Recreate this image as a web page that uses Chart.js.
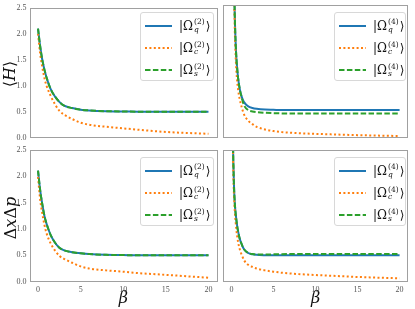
<!DOCTYPE html>
<html>
<head>
<meta charset="utf-8">
<script src="https://cdn.jsdelivr.net/npm/chart.js@4.4.0/dist/chart.umd.min.js"></script>
<style>
  body { margin: 0; background: #fff; width: 415px; height: 309px; overflow: hidden; position: relative; font-family: "DejaVu Serif", serif; }
  canvas { position: absolute; left: 0; top: 0; }
  .legend { position: absolute; border: 1px solid #d8d8d8; border-radius: 3px; background: rgba(255,255,255,0.85); z-index: 5; box-sizing: border-box; }
  .row { position: absolute; left: 0; height: 20px; display: flex; align-items: center; }
  .row svg { margin-left: 4px; }
  .lbl { margin-left: 7px; font-size: 12px; color: #111; display: flex; align-items: center; }
  .ss { display: inline-flex; flex-direction: column; font-size: 7.5px; line-height: 7.5px; margin: 0 1px; }
  .ss i { font-style: italic; }
  .ylab { position: absolute; transform: translate(-50%, -50%) rotate(-90deg); font-size: 16px; white-space: nowrap; color: #111; z-index: 5; }
</style>
</head>
<body>
<canvas id="cTL" width="415" height="309"></canvas>
<canvas id="cTR" width="415" height="309"></canvas>
<canvas id="cBL" width="415" height="309"></canvas>
<canvas id="cBR" width="415" height="309"></canvas>
<div class="ylab" style="left:9px;top:74px">⟨<i>H</i>⟩</div>
<div class="ylab" style="left:10px;top:218px">Δ<i>x</i>Δ<i>p</i></div>
<script>
// ticks
const xTickValues = [0, 5, 10, 15, 20];
const yTickValues = [0, 0.5, 1, 1.5, 2, 2.5];

// colonne de gauche (ordre 2)
const betaLeft = [0, 0.25, 0.5, 0.75, 1, 1.5, 2, 2.5, 3, 4, 5, 6, 8, 10, 12, 15, 20];
const hq2 = [2.10, 1.76, 1.50, 1.31, 1.16, 0.93, 0.79, 0.69, 0.62, 0.57, 0.54, 0.525, 0.51, 0.505, 0.50, 0.50, 0.50];
const hc2 = [2.00, 1.62, 1.36, 1.15, 1.00, 0.80, 0.64, 0.52, 0.45, 0.36, 0.29, 0.25, 0.21, 0.18, 0.15, 0.11, 0.075];
const hs2 = [2.10, 1.76, 1.50, 1.31, 1.16, 0.93, 0.79, 0.69, 0.62, 0.57, 0.54, 0.525, 0.51, 0.505, 0.50, 0.50, 0.50];
const dq2 = [2.11, 1.74, 1.47, 1.25, 1.10, 0.88, 0.74, 0.645, 0.60, 0.56, 0.54, 0.525, 0.51, 0.505, 0.50, 0.50, 0.50];
const dc2 = [1.99, 1.56, 1.30, 1.08, 0.92, 0.72, 0.59, 0.49, 0.44, 0.36, 0.29, 0.25, 0.215, 0.19, 0.16, 0.13, 0.075];
const ds2 = [2.11, 1.74, 1.47, 1.25, 1.10, 0.88, 0.74, 0.645, 0.60, 0.56, 0.54, 0.525, 0.51, 0.505, 0.50, 0.50, 0.50];

// haut droite (ordre 4)
const betaTR = [0.25, 0.3, 0.35, 0.4, 0.5, 0.6, 0.7, 0.8, 1, 1.25, 1.5, 2, 2.5, 3, 4, 5, 6, 8, 10, 12, 15, 20];
const hq4 = [4.6, 3.5, 2.75, 2.3, 1.80, 1.48, 1.28, 1.12, 0.91, 0.76, 0.67, 0.59, 0.56, 0.545, 0.53, 0.525, 0.52, 0.52, 0.52, 0.52, 0.52, 0.52];
const hc4 = [4.0, 3.0, 2.45, 2.05, 1.55, 1.24, 1.04, 0.90, 0.72, 0.56, 0.44, 0.32, 0.255, 0.205, 0.155, 0.125, 0.105, 0.085, 0.072, 0.062, 0.048, 0.032];
const hs4 = [4.6, 3.5, 2.75, 2.3, 1.80, 1.48, 1.28, 1.12, 0.91, 0.74, 0.61, 0.52, 0.495, 0.482, 0.47, 0.462, 0.458, 0.455, 0.455, 0.455, 0.455, 0.455];

// bas droite (ordre 4)
const betaBR = [0.15, 0.2, 0.25, 0.3, 0.4, 0.5, 0.6, 0.7, 0.8, 1, 1.25, 1.5, 2, 2.5, 3, 4, 5, 6, 8, 10, 12, 15, 20];
const dq4 = [3.6, 2.55, 2.15, 1.85, 1.50, 1.30, 1.16, 1.04, 0.95, 0.81, 0.70, 0.615, 0.545, 0.52, 0.51, 0.503, 0.50, 0.50, 0.50, 0.50, 0.50, 0.50, 0.50];
const dc4 = [3.3, 2.35, 1.95, 1.68, 1.34, 1.14, 0.97, 0.85, 0.75, 0.61, 0.50, 0.41, 0.32, 0.28, 0.25, 0.215, 0.19, 0.17, 0.145, 0.127, 0.112, 0.09, 0.064];
const ds4 = [3.6, 2.55, 2.15, 1.85, 1.50, 1.30, 1.16, 1.04, 0.95, 0.81, 0.70, 0.615, 0.545, 0.525, 0.515, 0.515, 0.52, 0.523, 0.525, 0.525, 0.525, 0.525, 0.525];

const legendSubs = ["q", "c", "s"];

const colors = { q: "#1f77b4", c: "#ff7f0e", s: "#2ca02c" };

function pts(xs, ys) {
  return xs.map((x, i) => ({ x: x, y: ys[i] }));
}

function makeDatasets(xs, q, c, s) {
  return [
    { data: pts(xs, q), borderColor: colors.q, borderWidth: 2, order: 3 },
    { data: pts(xs, c), borderColor: colors.c, borderWidth: 2, borderDash: [2, 2.4], order: 2 },
    { data: pts(xs, s), borderColor: colors.s, borderWidth: 2, borderDash: [5.5, 2.4], order: 1 },
  ];
}

// cadre gris autour de la zone de tracé
const framePlugin = {
  id: "frame",
  afterDraw(chart) {
    const a = chart.chartArea;
    const ctx = chart.ctx;
    ctx.save();
    ctx.strokeStyle = "#a0a0a0";
    ctx.lineWidth = 1;
    ctx.strokeRect(Math.round(a.left) + 0.5, Math.round(a.top) + 0.5, Math.round(a.right - a.left) - 1, Math.round(a.bottom - a.top) - 1);
    ctx.restore();
  },
};

const tickFont = { family: "Liberation Serif", size: 8 };

function makeChart(id, datasets, pad, showY, showX) {
  return new Chart(document.getElementById(id), {
    type: "line",
    data: { datasets: datasets },
    plugins: [framePlugin],
    options: {
      responsive: false,
      animation: false,
      devicePixelRatio: 1,
      layout: { padding: pad },
      elements: {
        point: { radius: 0 },
        line: { cubicInterpolationMode: "monotone", fill: false },
      },
      datasets: { line: { clip: 0 } },
      plugins: { legend: { display: false }, tooltip: { enabled: false } },
      scales: {
        x: {
          type: "linear",
          min: -1,
          max: 21,
          display: showX,
          grid: { display: false, drawTicks: false },
          border: { display: false },
          afterBuildTicks: (s) => { s.ticks = xTickValues.map((v) => ({ value: v })); },
          afterFit: (s) => { s.height = showX ? 27.3 : 0; },
          ticks: { font: tickFont, color: "#555", padding: 3, maxRotation: 0 },
          title: { display: true, text: "β", font: { family: "DejaVu Serif", size: 16, style: "italic" }, color: "#111", padding: { top: 0, bottom: 1 } },
        },
        y: {
          min: 0,
          max: 2.5,
          display: showY,
          grid: { display: false, drawTicks: false },
          border: { display: false },
          afterBuildTicks: (s) => { s.ticks = yTickValues.map((v) => ({ value: v })); },
          afterFit: (s) => { s.width = showY ? 29.5 : 0; },
          ticks: { font: tickFont, color: "#555", padding: 3, callback: (v) => v.toFixed(1) },
        },
      },
    },
  });
}

makeChart("cTL", makeDatasets(betaLeft, hq2, hc2, hs2), { left: 0, top: 5, right: 198, bottom: 171.3 }, true, false);
makeChart("cTR", makeDatasets(betaTR, hq4, hc4, hs4), { left: 223, top: 5, right: 7, bottom: 171.3 }, false, false);
makeChart("cBL", makeDatasets(betaLeft, dq2, dc2, ds2), { left: 0, top: 150, right: 198, bottom: 0 }, true, true);
makeChart("cBR", makeDatasets(betaBR, dq4, dc4, ds4), { left: 223, top: 150, right: 7, bottom: 0 }, false, true);

// légendes HTML (indices et exposants superposés)
function sample(color, dash) {
  return '<svg width="27" height="4"><line x1="0" y1="2" x2="27" y2="2" stroke="' + color + '" stroke-width="2"' +
    (dash ? ' stroke-dasharray="' + dash + '"' : "") + "/></svg>";
}

function addLegend(left, top, width, order) {
  const box = document.createElement("div");
  box.className = "legend";
  box.style.left = left + "px";
  box.style.top = top + "px";
  box.style.width = width + "px";
  box.style.height = "69px";
  const dashes = [null, "2 2.4", "5.5 2.4"];
  const centers = [13, 35.5, 57.5];
  legendSubs.forEach((sub, i) => {
    const row = document.createElement("div");
    row.className = "row";
    row.style.top = centers[i] - 10 + "px";
    row.innerHTML = sample(colors[sub], dashes[i]) +
      '<span class="lbl">|Ω<span class="ss"><span>(' + order + ')</span><i>' + sub + "</i></span>⟩</span>";
    box.appendChild(row);
  });
  document.body.appendChild(box);
}

addLegend(140, 11.7, 74, 2);
addLegend(334, 11.7, 72, 4);
addLegend(140, 156.7, 74, 2);
addLegend(334, 156.7, 72, 4);
</script>
</body>
</html>
